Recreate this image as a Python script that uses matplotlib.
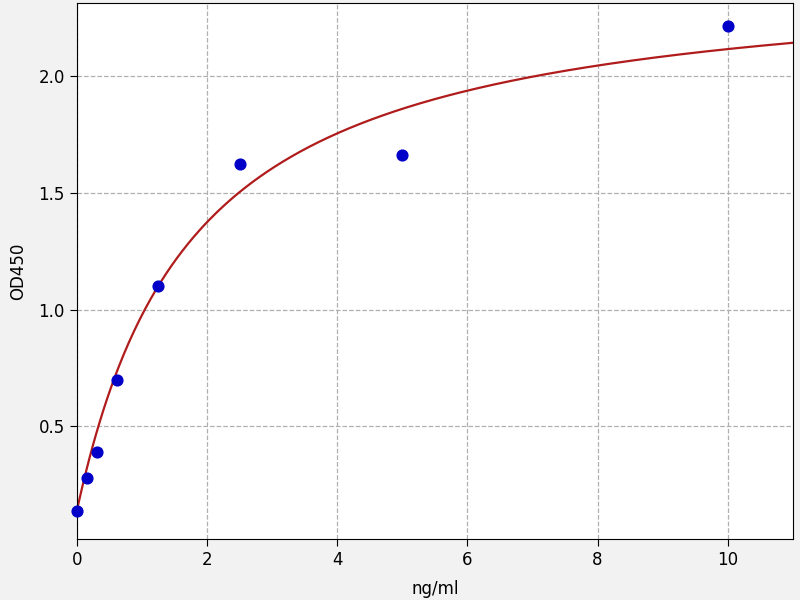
import matplotlib
matplotlib.use("Agg")
import matplotlib.pyplot as plt
import numpy as np

# standards (ng/ml) and measured OD450
conc = [0, 0.156, 0.3125, 0.625, 1.25, 2.5, 5, 10]
od450 = [0.14, 0.28, 0.39, 0.70, 1.10, 1.62, 1.66, 2.21]

# 4PL fit parameters (a: bottom, b: slope, c: ec50, d: top)
a, b, c, d = 0.14, 1.014, 1.75, 2.45


def four_pl(x):
    return d + (a - d) / (1 + (x / c) ** b)


fig = plt.figure(figsize=(8, 6), dpi=100, facecolor="#f2f2f2")
ax = fig.add_axes([0.096, 0.102, 0.895, 0.893])
ax.set_facecolor("white")

xs = np.linspace(0, 11, 400)
ax.plot(xs, four_pl(xs), color="#b01c1c", lw=1.6, zorder=2)
ax.scatter(conc, od450, s=60, color="#0000c8", zorder=3, clip_on=False)

ax.set_xlim(0, 11)
ax.set_ylim(0.02, 2.31)
ax.set_xticks([0, 2, 4, 6, 8, 10])
ax.set_yticks([0.5, 1.0, 1.5, 2.0])
ax.grid(True, linestyle="--", color="#b0b0b0", lw=0.9)
ax.set_axisbelow(True)
ax.tick_params(labelsize=12, length=5)
ax.set_xlabel("ng/ml", fontsize=12, labelpad=8)
ax.set_ylabel("OD450", fontsize=12, labelpad=8)

fig.savefig("out.png", dpi=100, facecolor=fig.get_facecolor())
